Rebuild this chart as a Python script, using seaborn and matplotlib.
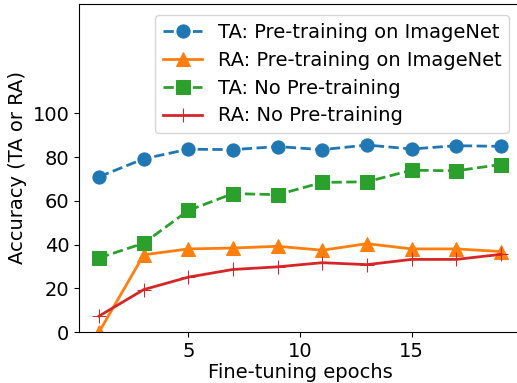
import matplotlib
matplotlib.use("Agg")
import matplotlib.pyplot as plt
import seaborn as sns
import pandas as pd

epochs = [1, 3, 5, 7, 9, 11, 13, 15, 17, 19]
ta_pre = [71.0, 79.2, 83.6, 83.4, 84.8, 83.4, 85.5, 83.7, 85.2, 84.9]
ra_pre = [0.0, 35.3, 38.0, 38.4, 39.2, 37.4, 40.4, 38.0, 38.0, 36.8]
ta_nopre = [33.9, 40.6, 55.6, 63.3, 62.8, 68.4, 68.7, 74.0, 73.7, 76.6]
ra_nopre = [7.3, 19.4, 25.1, 28.6, 29.8, 31.7, 30.8, 33.2, 33.2, 35.5]
labels = ["TA: Pre-training on ImageNet", "RA: Pre-training on ImageNet",
          "TA: No Pre-training", "RA: No Pre-training"]
yticks = [0, 20, 40, 60, 80, 100]

plt.rcParams['font.family'] = ['DejaVu Sans']
plt.rcParams['font.size'] = 14

fig = plt.figure(figsize=(5.17, 3.83), dpi=100)
ax = fig.add_axes([79/517, 1-332/383, 442/517, 328/383])

series = [
    ("#1f77b4", "o", (3.7, 1.6), 9.5),
    ("#ff7f0e", "^", "", 9.5),
    ("#2ca02c", "s", (3.7, 1.6), 9.5),
    ("#d62728", "+", "", 9.5),
]
for vals, lab, (color, mk, dash, ms) in zip([ta_pre, ra_pre, ta_nopre, ra_nopre], labels, series):
    df = pd.DataFrame({"epoch": epochs, "acc": vals})
    sns.lineplot(x="epoch", y="acc", data=df, ax=ax, color=color, marker=mk,
                 markersize=ms, linewidth=2, label=lab, markeredgecolor=color)
    if dash:
        ax.lines[-1].set_dashes(dash)

ax.set_ylim(0, 150)
ax.set_xlim(0.1, 19.9)
ax.set_yticks(yticks)
ax.set_xticks([5, 10, 15])
ax.spines['right'].set_visible(False)
ax.set_xlabel("Fine-tuning epochs", fontsize=14, labelpad=2)
ax.set_ylabel("Accuracy (TA or RA)", fontsize=14)
ax.tick_params(labelsize=14)
ax.legend(loc="upper right", fontsize=14, handlelength=2, labelspacing=0.45,
          bbox_to_anchor=(0.995, 0.995))

fig.savefig("out.png", dpi=100)
